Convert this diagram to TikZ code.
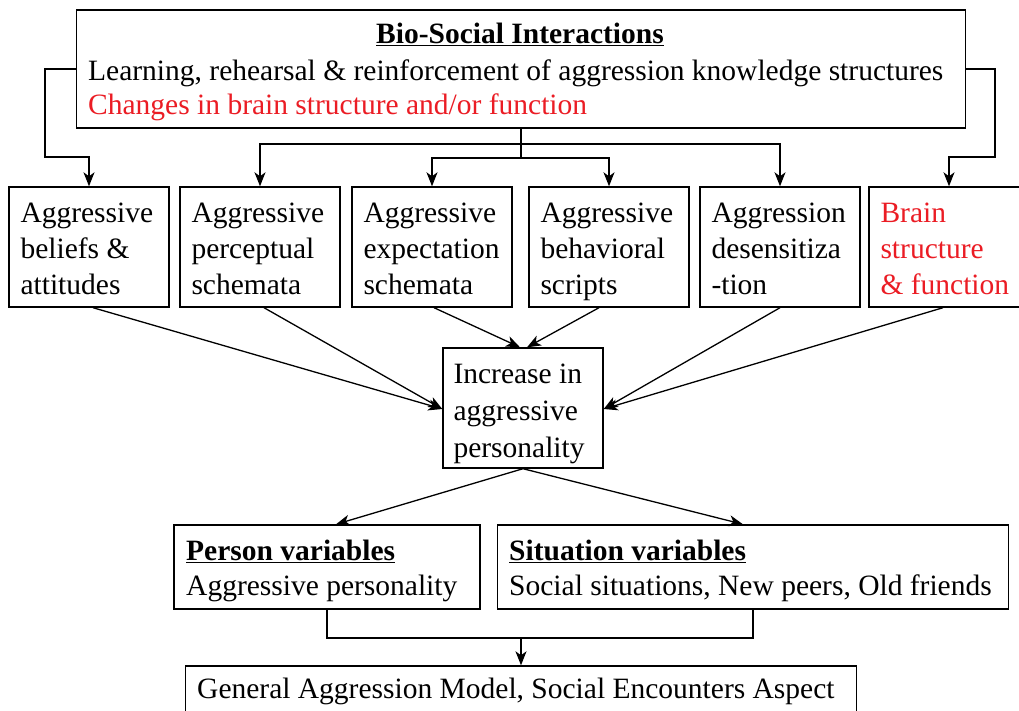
\documentclass[tikz,border=0pt]{standalone}
\usepackage{fontspec}
\setmainfont{Liberation Serif}
\usetikzlibrary{arrows.meta}
\definecolor{bred}{RGB}{235,28,36}
\begin{document}
\begin{tikzpicture}[x=1pt,y=-1pt,
  box/.style={draw,line width=1.4pt,rectangle,inner sep=0pt},
  lbl/.style={inner sep=0pt,anchor=west,font=\fontsize{29.5}{36}\selectfont},
  btxt/.style={inner sep=0pt,anchor=north west,align=left,font=\fontsize{29.5}{36}\selectfont},
  conn/.style={line width=1.3pt},
  arr/.style={conn,-{Stealth[length=14pt,width=11pt,inset=4pt]}}]
\useasboundingbox (0,0) rectangle (1019,711);
\fill[white] (0,0) rectangle (1019,711);
% top box
\node[box,minimum width=889pt,minimum height=118pt] (top) at (521,69) {};
\node[inner sep=0pt,font=\fontsize{29.5}{36}\selectfont\bfseries] (title) at (520,34) {\underline{Bio-Social Interactions}};
\node[lbl] (l2) at (88,73) {Learning, rehearsal \& reinforcement of aggression knowledge structures};
\node[lbl,text=bred] (l3) at (88,107) {Changes in brain structure and/or function};
% row boxes
\foreach \n/\cx in {b1/89,b2/260,b3/432,b4/609,b5/780,b6/949}{
  \node[box,minimum width=160pt,minimum height=120pt] (\n) at (\cx,247) {};
}
\node[btxt] (t1) at ([xshift=12pt,yshift=-16pt]b1.north west) {Aggressive\\beliefs \&\\attitudes};
\node[btxt] (t2) at ([xshift=12pt,yshift=-16pt]b2.north west) {Aggressive\\perceptual\\schemata};
\node[btxt] (t3) at ([xshift=12pt,yshift=-16pt]b3.north west) {Aggressive\\expectation\\schemata};
\node[btxt] (t4) at ([xshift=12pt,yshift=-16pt]b4.north west) {Aggressive\\behavioral\\scripts};
\node[btxt] (t5) at ([xshift=12pt,yshift=-16pt]b5.north west) {Aggression\\desensitiza\\-tion};
\node[btxt,text=bred] (t6) at ([xshift=12pt,yshift=-16pt]b6.north west) {Brain\\structure\\\& function};
% middle box
\node[box,minimum width=160pt,minimum height=120pt] (mid) at (523,408) {};
\node[btxt,font=\fontsize{29.5}{37}\selectfont] (tm) at ([xshift=11pt,yshift=-16pt]mid.north west) {Increase in\\aggressive\\personality};
% person / situation
\node[box,minimum width=306pt,minimum height=84pt] (pv) at (327,567) {};
\node[lbl,font=\fontsize{29.5}{36}\selectfont\bfseries] (pvt) at (186,551) {\underline{Person variables}};
\node[lbl] (pvb) at (186,588) {Aggressive personality};
\node[box,minimum width=511pt,minimum height=84pt] (sv) at (753,567) {};
\node[lbl,font=\fontsize{29.5}{36}\selectfont\bfseries] (svt) at (509,551) {\underline{Situation variables}};
\node[lbl] (svb) at (509,588) {Social situations, New peers, Old friends};
% bottom box
\node[box,minimum width=671pt,minimum height=60pt] (gam) at (521,696) {};
\node[lbl] (gamt) at (197,691) {General Aggression Model, Social Encounters Aspect};
% connectors top
\coordinate (lk) at (45,157);
\coordinate (rk) at (995,157);
\coordinate (ua) at (521,144);
\coordinate (ub) at (521,158);
\draw[arr] (top.west) -| (lk) -| (b1.north);
\draw[arr] (top.east) -| (rk) -| (b6.north);
\draw[conn] (top.south) -- (ub);
\draw[arr] (ua) -| (b2.north);
\draw[arr] (ua) -| (b5.north);
\draw[arr] (ub) -| (b3.north);
\draw[arr] (ub) -| (b4.north);
% to middle
\draw[arr] ([xshift=4pt]b1.south) -- ([yshift=-1pt]mid.west);
\draw[arr] ([xshift=4pt]b2.south) -- ([yshift=-1pt]mid.west);
\draw[arr] ([xshift=2pt]b3.south) -- ([xshift=-3pt]mid.north);
\draw[arr] ([xshift=-10pt]b4.south) -- ([xshift=4pt]mid.north);
\draw[arr] (b5.south) -- ([yshift=-1pt]mid.east);
\draw[arr] ([xshift=-6pt]b6.south) -- ([yshift=-1pt]mid.east);
% to person / situation
\draw[arr] (mid.south) -- ([xshift=9pt]pv.north);
\draw[arr] (mid.south) -- ([xshift=-10pt]sv.north);
% bottom
\coordinate (jc) at (521,638);
\draw[conn] (pv.south) |- (jc) -| (sv.south);
\draw[arr] (jc) -- (gam.north);
\end{tikzpicture}
\end{document}
